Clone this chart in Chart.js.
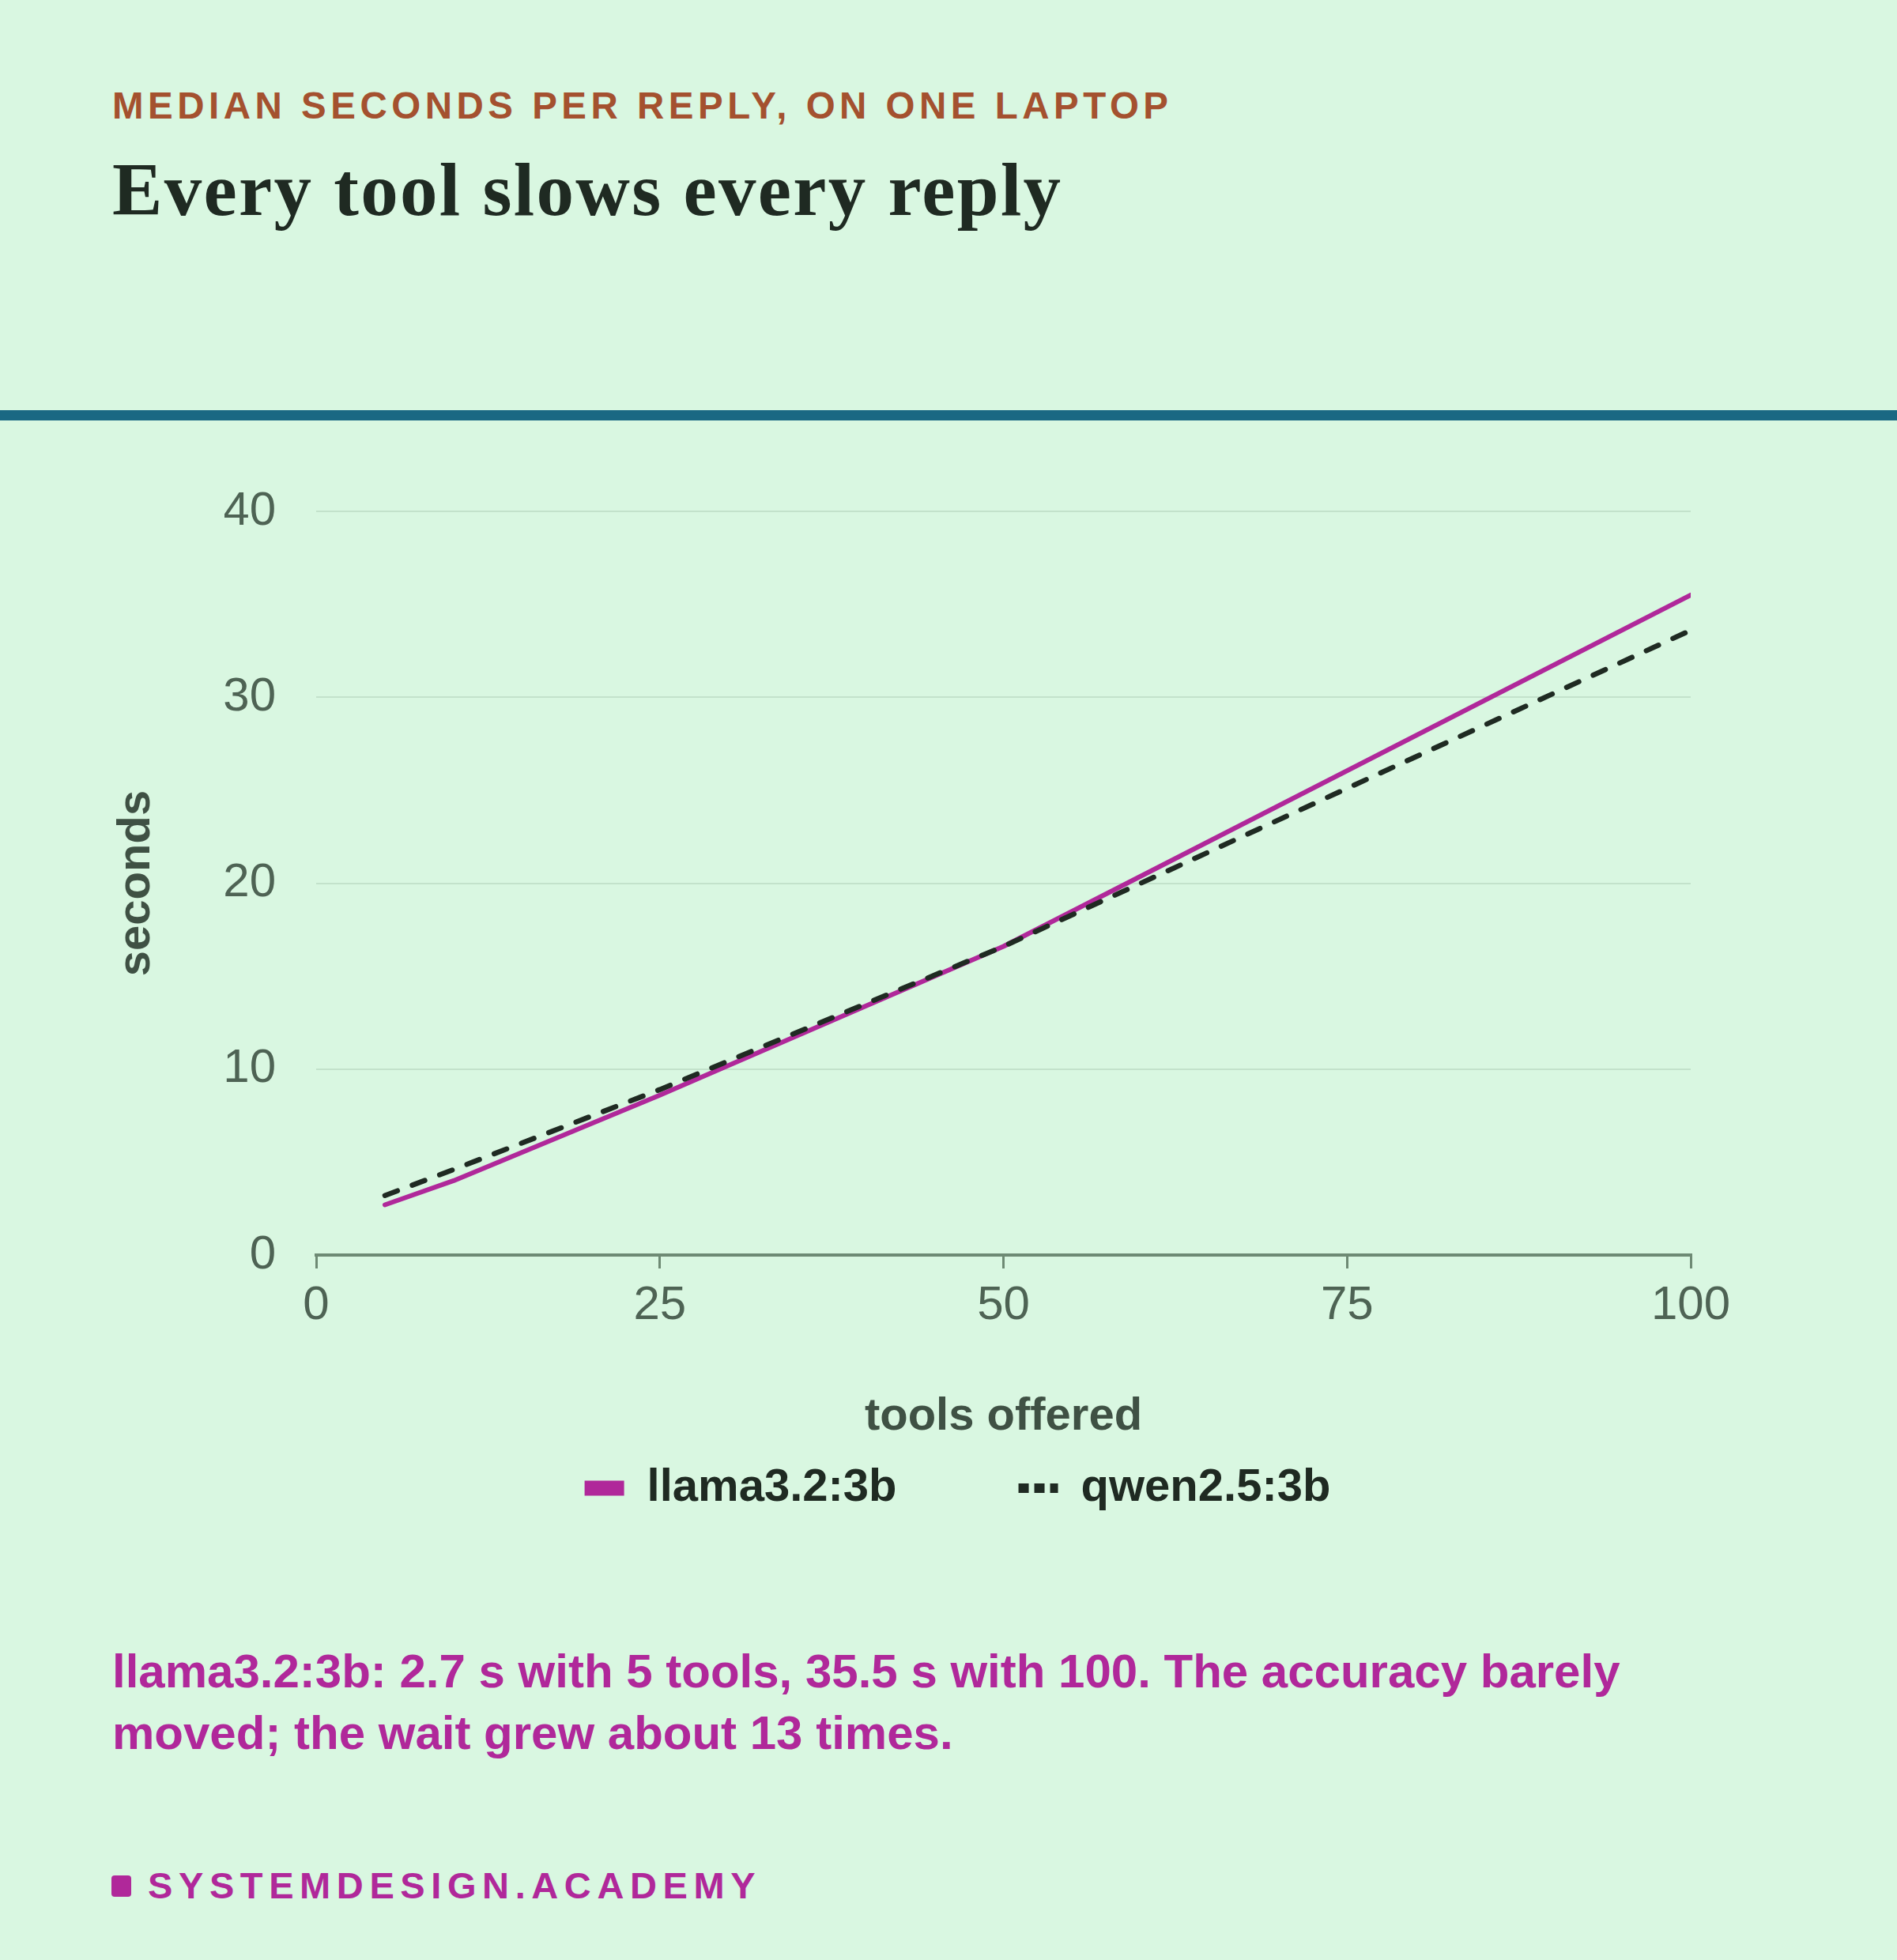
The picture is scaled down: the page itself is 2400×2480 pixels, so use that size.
<!DOCTYPE html>
<html>
<head>
<meta charset="utf-8">
<script src="https://cdn.jsdelivr.net/npm/chart.js@4.4.1/dist/chart.umd.min.js"></script>
<style>
  html, body { margin: 0; padding: 0; }
  body {
    width: 2400px; height: 2480px; position: relative; overflow: hidden;
    background: #d9f7e1;
    font-family: "Liberation Sans", Arial, sans-serif;
  }
  .kicker {
    position: absolute; left: 142px; top: 110px;
    font-size: 47.5px; line-height: 47.5px; font-weight: bold;
    letter-spacing: 5.5px; color: #a4512f; white-space: nowrap;
  }
  .headline {
    position: absolute; left: 142px; top: 193px;
    font-family: "Liberation Serif", "Times New Roman", serif;
    font-size: 95px; line-height: 95px; font-weight: bold;
    color: #1f2a22; white-space: nowrap; letter-spacing: 2.3px;
  }
  .rule {
    position: absolute; left: 0; top: 519px; width: 2400px; height: 13px;
    background: #1a6883;
  }
  .chart-box {
    position: absolute; left: 0; top: 560px; width: 2400px; height: 1362px;
  }
  .note {
    position: absolute; left: 142px; top: 2076px; width: 2050px;
    font-size: 60px; line-height: 78px; font-weight: bold; color: #b0289a;
  }
  .brand {
    position: absolute; left: 187px; top: 2362px;
    font-size: 47px; line-height: 47px; font-weight: bold;
    letter-spacing: 7.6px; color: #b0289a; white-space: nowrap;
  }
  .brand-mark {
    position: absolute; left: 141px; top: 2373px; width: 25px; height: 27px;
    border-radius: 4px; background: #b0289a;
  }
</style>
</head>
<body>
<div class="kicker">MEDIAN SECONDS PER REPLY, ON ONE LAPTOP</div>
<div class="headline">Every tool slows every reply</div>
<div class="rule"></div>
<div class="chart-box"><canvas id="latencyChart" width="2400" height="1362"></canvas></div>
<div class="note">llama3.2:3b: 2.7 s with 5 tools, 35.5 s with 100. The accuracy barely<br>moved; the wait grew about 13 times.</div>
<div class="brand-mark"></div>
<div class="brand">SYSTEMDESIGN.ACADEMY</div>

<script>
// values
const toolCounts = [5, 10, 25, 50, 100];
const llamaSeconds = [2.7, 4.0, 8.6, 16.6, 35.5];
const qwenSeconds = [3.2, 4.6, 8.9, 16.6, 33.6];
const seriesNames = ['llama3.2:3b', 'qwen2.5:3b'];
const xTicks = [0, 25, 50, 75, 100];
const yTicks = [0, 10, 20, 30, 40];

const FONT = '"Liberation Sans", Arial, sans-serif';
const MAGENTA = '#b0289a';
const INK = '#1f2a22';
const AXIS = '#6e8a74';
const LEFT_PAD = 284; // pushes the full-width legend right, y axis width makes up the rest

function toPoints(ys) {
  return toolCounts.map((x, i) => ({ x: x, y: ys[i] }));
}

const ctx = document.getElementById('latencyChart').getContext('2d');
new Chart(ctx, {
  type: 'line',
  data: {
    datasets: [
      {
        label: seriesNames[0],
        data: toPoints(llamaSeconds),
        borderColor: MAGENTA,
        backgroundColor: MAGENTA,
        borderWidth: 6,
        borderCapStyle: 'round',
        borderJoinStyle: 'round',
        pointRadius: 0,
        tension: 0,
        order: 1
      },
      {
        label: seriesNames[1],
        data: toPoints(qwenSeconds),
        borderColor: INK,
        backgroundColor: 'transparent',
        borderWidth: 6.5,
        borderDash: [17, 20],
        borderCapStyle: 'round',
        borderJoinStyle: 'round',
        pointRadius: 0,
        tension: 0,
        order: 0
      }
    ]
  },
  options: {
    responsive: false,
    animation: false,
    devicePixelRatio: 1,
    layout: { padding: { top: 87, right: 261, bottom: 0, left: LEFT_PAD } },
    plugins: {
      tooltip: { enabled: false },
      legend: {
        position: 'bottom',
        labels: {
          color: INK,
          font: { family: FONT, size: 58, weight: 'bold' },
          usePointStyle: true,
          pointStyle: 'line',
          pointStyleWidth: 50,
          padding: 154,
          generateLabels: (chart) => {
            const items = Chart.defaults.plugins.legend.labels.generateLabels(chart);
            items.sort((a, b) => a.datasetIndex - b.datasetIndex);
            items.forEach(item => {
              item.lineCap = 'butt';
              if (item.datasetIndex === 0) {
                item.lineWidth = 19;
                item.lineDash = [];
              } else {
                item.lineWidth = 12;
                item.lineDash = [13, 7];
              }
            });
            return items;
          }
        }
      }
    },
    scales: {
      x: {
        type: 'linear',
        min: 0,
        max: 100,
        afterBuildTicks: (s) => { s.ticks = xTicks.map(v => ({ value: v })); },
        afterFit: (s) => { s.height = 112; },
        grid: { drawOnChartArea: false, drawTicks: true, tickLength: 17, color: AXIS, lineWidth: 3 },
        border: { display: true, color: AXIS, width: 4 },
        ticks: { color: '#4e6354', padding: 11, font: { family: FONT, size: 60 } },
        title: {
          display: true,
          text: 'tools offered',
          color: '#3f5144',
          font: { family: FONT, size: 58, weight: 'bold' },
          padding: { top: 0, bottom: -128 }
        }
      },
      y: {
        min: 0,
        max: 40,
        afterBuildTicks: (s) => { s.ticks = yTicks.map(v => ({ value: v })); },
        afterFit: (s) => { s.width = 400 - LEFT_PAD; },
        grid: { drawTicks: false, color: '#c3e2cb', lineWidth: 2 },
        border: { display: false },
        ticks: { color: '#4e6354', padding: 51, font: { family: FONT, size: 60 } },
        title: {
          display: true,
          text: 'seconds',
          color: '#3f5144',
          font: { family: FONT, size: 58, weight: 'bold' },
          padding: { top: 173 - 34.8 - LEFT_PAD, bottom: 0 }
        }
      }
    }
  }
});
</script>
</body>
</html>
